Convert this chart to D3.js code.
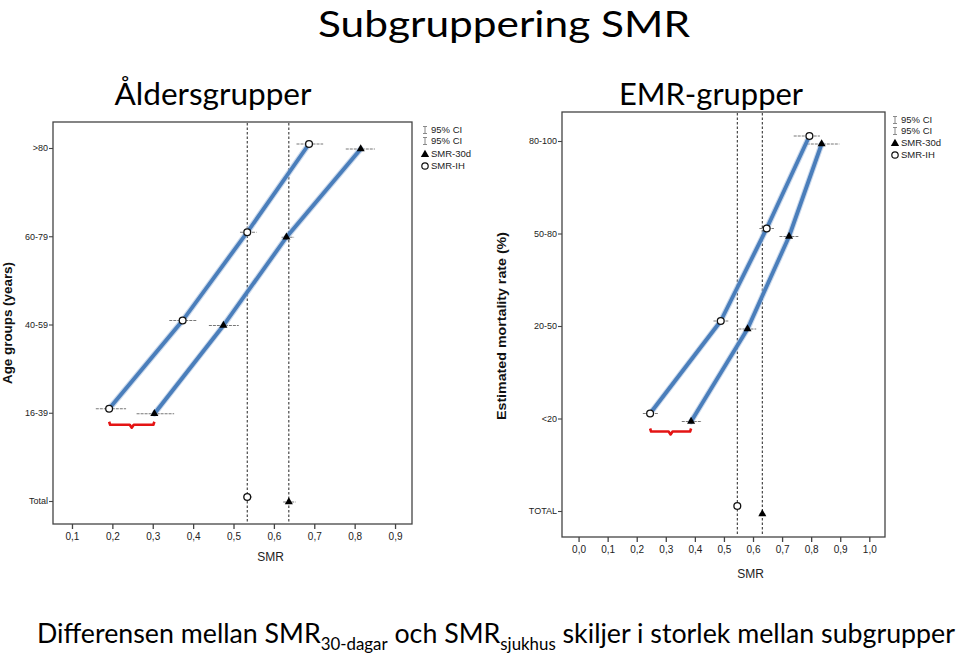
<!DOCTYPE html>
<html>
<head>
<meta charset="utf-8">
<script src="https://cdn.jsdelivr.net/npm/d3@7"></script>
<style>
  html, body { margin: 0; padding: 0; background: #fff; }
  svg { display: block; }
</style>
</head>
<body>
<svg id="chart" width="960" height="654"></svg>
<script>
// ---------- DATA ----------
const ageCategories = [">80", "60-79", "40-59", "16-39", "Total"];
const ageSmrIH      = [0.687, 0.534, 0.374, 0.192, 0.534];
const ageSmrIHLow   = [0.656, 0.516, 0.341, 0.159, 0.524];
const ageSmrIHHigh  = [0.722, 0.557, 0.409, 0.234, 0.546];
const ageSmr30      = [0.815, 0.631, 0.475, 0.304, 0.637];
const ageSmr30Low   = [0.778, 0.619, 0.439, 0.260, 0.623];
const ageSmr30High  = [0.850, 0.650, 0.513, 0.353, 0.654];
const ageTicks      = [0.1, 0.2, 0.3, 0.4, 0.5, 0.6, 0.7, 0.8, 0.9];

const emrCategories = ["80-100", "50-80", "20-50", "<20", "TOTAL"];
const emrSmrIH      = [0.794, 0.647, 0.489, 0.246, 0.546];
const emrSmrIHLow   = [0.740, 0.622, 0.464, 0.221, 0.537];
const emrSmrIHHigh  = [0.830, 0.672, 0.515, 0.275, 0.556];
const emrSmr30      = [0.836, 0.724, 0.581, 0.387, 0.632];
const emrSmr30Low   = [0.785, 0.691, 0.550, 0.355, 0.622];
const emrSmr30High  = [0.897, 0.756, 0.611, 0.424, 0.642];
const emrTicks      = [0.0, 0.1, 0.2, 0.3, 0.4, 0.5, 0.6, 0.7, 0.8, 0.9, 1.0];

const legendLabels = ["95% CI", "95% CI", "SMR-30d", "SMR-IH"];

// ---------- DRAW ----------
const svg = d3.select("#chart");
const fmt = v => d3.format(".1f")(v).replace(".", ",");
const chartFont = "'Liberation Sans', Arial, sans-serif";
const titleFont = "Lato, 'Open Sans', sans-serif";

function drawPanel(cfg) {
  const g = svg.append("g");
  const x = d3.scaleLinear().domain(cfg.xDomain).range([cfg.left, cfg.right]);
  const y = d3.scalePoint().domain(cfg.cats).range(cfg.catRange);

  // frame
  g.append("rect")
    .attr("x", cfg.left).attr("y", cfg.top)
    .attr("width", cfg.right - cfg.left).attr("height", cfg.bottom - cfg.top)
    .attr("fill", "none").attr("stroke", "#444").attr("stroke-width", 1.3);

  // x axis
  const xAxis = g.append("g")
    .attr("transform", `translate(0,${cfg.bottom})`)
    .call(d3.axisBottom(x).tickValues(cfg.ticks).tickFormat(fmt).tickSize(5).tickPadding(4));
  xAxis.select(".domain").remove();
  xAxis.selectAll("line").attr("stroke", "#444").attr("stroke-width", 1.3);
  xAxis.selectAll("text").attr("font-family", chartFont).attr("font-size", 10).attr("fill", "#222");

  // y axis
  const yAxis = g.append("g")
    .attr("transform", `translate(${cfg.left},0)`)
    .call(d3.axisLeft(y).tickSize(4).tickPadding(1));
  yAxis.select(".domain").remove();
  yAxis.selectAll("line").attr("stroke", "#444").attr("stroke-width", 1.1);
  yAxis.selectAll("text").attr("font-family", chartFont).attr("font-size", 9).attr("fill", "#222");

  // axis titles
  g.append("text")
    .attr("x", (cfg.left + cfg.right) / 2 + cfg.xTitleDx).attr("y", cfg.xTitleY)
    .attr("text-anchor", "middle").attr("font-family", chartFont).attr("font-size", 12).attr("fill", "#222")
    .text("SMR");
  g.append("text")
    .attr("transform", `translate(${cfg.yTitleX},${cfg.yTitleY}) rotate(-90)`)
    .attr("text-anchor", "middle").attr("font-family", chartFont).attr("font-size", 13)
    .attr("font-weight", "bold").attr("fill", "#111")
    .attr("textLength", cfg.yTitleLen).attr("lengthAdjust", "spacingAndGlyphs")
    .text(cfg.yTitle);

  // dashed reference lines at total values
  const totIdx = cfg.cats.length - 1;
  [cfg.ih[totIdx], cfg.s30[totIdx]].forEach(v => {
    g.append("line")
      .attr("x1", x(v)).attr("x2", x(v))
      .attr("y1", cfg.top + 1).attr("y2", cfg.bottom - 1)
      .attr("stroke", "#222").attr("stroke-width", 1).attr("stroke-dasharray", "2.5,2");
  });

  // CI bars
  function ci(lo, hi, dy) {
    cfg.cats.forEach((c, i) => {
      const yy = y(c) + dy;
      g.append("line")
        .attr("x1", x(lo[i])).attr("x2", x(hi[i])).attr("y1", yy).attr("y2", yy)
        .attr("stroke", "#777").attr("stroke-width", 1).attr("stroke-dasharray", "3,1");
    });
  }
  ci(cfg.ihLo, cfg.ihHi, cfg.ihDy);
  ci(cfg.s30Lo, cfg.s30Hi, cfg.s30Dy);

  // blue annotation lines through subgroup points
  const sub = cfg.cats.slice(0, totIdx);
  const lineGen = d3.line().x(d => x(d[0])).y(d => d[1]);
  [[cfg.ih, cfg.ihDy], [cfg.s30, cfg.s30Dy]].forEach(([vals, dy]) => {
    const pts = sub.map((c, i) => [vals[i], y(c) + dy]);
    g.append("path").attr("d", lineGen(pts)).attr("fill", "none")
      .attr("stroke", "#a9bfe0").attr("stroke-width", 6).attr("stroke-linecap", "round")
      .attr("stroke-linejoin", "round").attr("opacity", 0.6);
    g.append("path").attr("d", lineGen(pts)).attr("fill", "none")
      .attr("stroke", "#4a7ebb").attr("stroke-width", 3.8).attr("stroke-linecap", "round")
      .attr("stroke-linejoin", "round");
  });

  // markers
  cfg.cats.forEach((c, i) => {
    g.append("circle")
      .attr("cx", x(cfg.ih[i])).attr("cy", y(c) + cfg.ihDy).attr("r", 3.4)
      .attr("fill", "#fff").attr("stroke", "#111").attr("stroke-width", 1.3);
    g.append("path")
      .attr("d", d3.symbol().type(d3.symbolTriangle).size(28)())
      .attr("transform", `translate(${x(cfg.s30[i])},${y(c) + cfg.s30Dy})`)
      .attr("fill", "#000");
  });

  // red bracket under lowest subgroup: difference between SMR-IH and SMR-30d
  const bi = totIdx - 1;
  const bx0 = x(cfg.ih[bi]), bx1 = x(cfg.s30[bi]);
  const by = y(cfg.cats[bi]) + cfg.bracketDy;
  const bm = (bx0 + bx1) / 2;
  g.append("path")
    .attr("d", `M${bx0},${by - 3} L${bx0 + 1},${by} L${bm - 2},${by} L${bm},${by + 3} L${bm + 2},${by} L${bx1 - 1},${by} L${bx1},${by - 3}`)
    .attr("fill", "none").attr("stroke", "#e41414").attr("stroke-width", 2.6)
    .attr("stroke-linejoin", "round");

  // legend
  const lg = g.append("g").attr("font-family", chartFont).attr("font-size", 9.5).attr("fill", "#222");
  legendLabels.forEach((lab, i) => {
    const ly = cfg.legendY[i];
    const sx = cfg.legendX;
    if (i < 2) {
      lg.append("path")
        .attr("d", `M${sx - 2},${ly - 3.5} L${sx + 2},${ly - 3.5} M${sx},${ly - 3.5} L${sx},${ly + 3.5} M${sx - 2},${ly + 3.5} L${sx + 2},${ly + 3.5}`)
        .attr("stroke", "#888").attr("stroke-width", 1).attr("fill", "none");
    } else if (i === 2) {
      lg.append("path").attr("d", d3.symbol().type(d3.symbolTriangle).size(30)())
        .attr("transform", `translate(${sx},${ly + 0.5})`).attr("fill", "#000");
    } else {
      lg.append("circle").attr("cx", sx).attr("cy", ly).attr("r", 3.2)
        .attr("fill", "#fff").attr("stroke", "#111").attr("stroke-width", 1.2);
    }
    lg.append("text").attr("x", sx + 6).attr("y", ly).attr("dy", "0.35em").text(lab);
  });

  // subtitle
  svg.append("text")
    .attr("x", cfg.subX).attr("y", 105).attr("text-anchor", "middle")
    .attr("font-family", titleFont).attr("font-size", 30).attr("fill", "#000")
    .attr("textLength", cfg.subW).attr("lengthAdjust", "spacingAndGlyphs")
    .text(cfg.subtitle);
}

drawPanel({
  cats: ageCategories, ih: ageSmrIH, ihLo: ageSmrIHLow, ihHi: ageSmrIHHigh,
  s30: ageSmr30, s30Lo: ageSmr30Low, s30Hi: ageSmr30High, ticks: ageTicks,
  xDomain: [0.053, 0.942], left: 53, right: 412, top: 122, bottom: 524,
  catRange: [148, 501], ihDy: -4, s30Dy: 1, bracketDy: 12,
  xTitleDx: 38, xTitleY: 561, yTitleX: 12, yTitleY: 323, yTitle: "Age groups (years)", yTitleLen: 122,
  legendX: 425, legendY: [130, 141, 154, 166],
  subtitle: "Åldersgrupper", subX: 213, subW: 197
});

drawPanel({
  cats: emrCategories, ih: emrSmrIH, ihLo: emrSmrIHLow, ihHi: emrSmrIHHigh,
  s30: emrSmr30, s30Lo: emrSmr30Low, s30Hi: emrSmr30High, ticks: emrTicks,
  xDomain: [-0.057, 1.054], left: 562, right: 885, top: 112, bottom: 537,
  catRange: [141, 511], ihDy: -5, s30Dy: 3, bracketDy: 13,
  xTitleDx: 27, xTitleY: 578, yTitleX: 506, yTitleY: 326, yTitle: "Estimated mortality rate (%)", yTitleLen: 188,
  legendX: 895, legendY: [120, 131, 143, 155],
  subtitle: "EMR-grupper", subX: 711, subW: 184
});

// main title
svg.append("text")
  .attr("x", 504).attr("y", 37).attr("text-anchor", "middle")
  .attr("font-family", titleFont).attr("font-size", 36).attr("fill", "#000")
  .attr("textLength", 372).attr("lengthAdjust", "spacingAndGlyphs")
  .text("Subgruppering SMR");

// bottom caption with subscripts
const cap = svg.append("text")
  .attr("x", 37).attr("y", 643)
  .attr("font-family", titleFont).attr("font-size", 27).attr("fill", "#000")
  .attr("textLength", 918).attr("lengthAdjust", "spacingAndGlyphs");
cap.append("tspan").text("Differensen mellan SMR");
cap.append("tspan").attr("font-size", 17).attr("dy", 7).text("30-dagar");
cap.append("tspan").attr("dy", -7).text(" och SMR");
cap.append("tspan").attr("font-size", 17).attr("dy", 7).text("sjukhus");
cap.append("tspan").attr("dy", -7).text(" skiljer i storlek mellan subgrupper");
</script>
</body>
</html>
